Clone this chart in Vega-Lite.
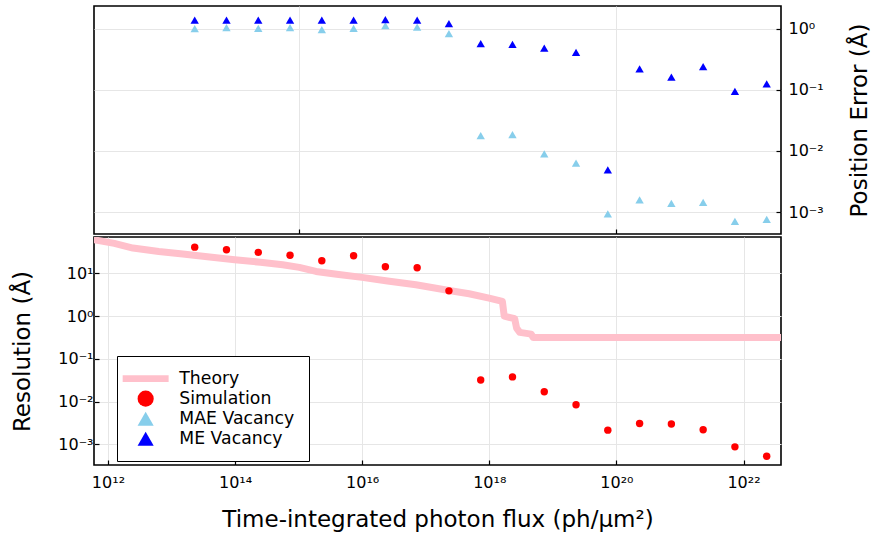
{
  "$schema": "https://vega.github.io/schema/vega-lite/v6.json",
  "background": "white",
  "padding": {"left": 10, "top": 5, "right": 0, "bottom": 5},
  "config": {
    "font": "DejaVu Sans",
    "view": {"stroke": "black", "strokeWidth": 1.6},
    "axis": {
      "labelFont": "DejaVu Sans", "labelFontSize": 16, "labelColor": "black",
      "titleFont": "DejaVu Sans", "titleFontSize": 23, "titleFontWeight": "normal", "titleColor": "black",
      "tickColor": "black", "tickWidth": 1.2, "tickSize": -5, "domain": false,
      "gridColor": "#e6e6e6", "gridWidth": 1
    }
  },
  "datasets": {
    "vac": [
      {"x": 2.317e13, "value": 1.00, "series": "MAE Vacancy"},
      {"x": 7.328e13, "value": 1.04, "series": "MAE Vacancy"},
      {"x": 2.317e14, "value": 1.01, "series": "MAE Vacancy"},
      {"x": 7.328e14, "value": 1.04, "series": "MAE Vacancy"},
      {"x": 2.317e15, "value": 0.96, "series": "MAE Vacancy"},
      {"x": 7.328e15, "value": 1.01, "series": "MAE Vacancy"},
      {"x": 2.317e16, "value": 1.12, "series": "MAE Vacancy"},
      {"x": 7.328e16, "value": 1.06, "series": "MAE Vacancy"},
      {"x": 2.317e17, "value": 0.83, "series": "MAE Vacancy"},
      {"x": 7.328e17, "value": 0.0178, "series": "MAE Vacancy"},
      {"x": 2.317e18, "value": 0.0185, "series": "MAE Vacancy"},
      {"x": 7.328e18, "value": 0.0089, "series": "MAE Vacancy"},
      {"x": 2.317e19, "value": 0.0063, "series": "MAE Vacancy"},
      {"x": 7.328e19, "value": 0.00093, "series": "MAE Vacancy"},
      {"x": 2.317e20, "value": 0.00158, "series": "MAE Vacancy"},
      {"x": 7.328e20, "value": 0.00138, "series": "MAE Vacancy"},
      {"x": 2.317e21, "value": 0.00144, "series": "MAE Vacancy"},
      {"x": 7.328e21, "value": 0.0007, "series": "MAE Vacancy"},
      {"x": 2.317e22, "value": 0.00076, "series": "MAE Vacancy"},
      {"x": 2.317e13, "value": 1.37, "series": "ME Vacancy"},
      {"x": 7.328e13, "value": 1.37, "series": "ME Vacancy"},
      {"x": 2.317e14, "value": 1.37, "series": "ME Vacancy"},
      {"x": 7.328e14, "value": 1.37, "series": "ME Vacancy"},
      {"x": 2.317e15, "value": 1.37, "series": "ME Vacancy"},
      {"x": 7.328e15, "value": 1.37, "series": "ME Vacancy"},
      {"x": 2.317e16, "value": 1.40, "series": "ME Vacancy"},
      {"x": 7.328e16, "value": 1.37, "series": "ME Vacancy"},
      {"x": 2.317e17, "value": 1.21, "series": "ME Vacancy"},
      {"x": 7.328e17, "value": 0.57, "series": "ME Vacancy"},
      {"x": 2.317e18, "value": 0.55, "series": "ME Vacancy"},
      {"x": 7.328e18, "value": 0.48, "series": "ME Vacancy"},
      {"x": 2.317e19, "value": 0.41, "series": "ME Vacancy"},
      {"x": 7.328e19, "value": 0.0049, "series": "ME Vacancy"},
      {"x": 2.317e20, "value": 0.22, "series": "ME Vacancy"},
      {"x": 7.328e20, "value": 0.161, "series": "ME Vacancy"},
      {"x": 2.317e21, "value": 0.238, "series": "ME Vacancy"},
      {"x": 7.328e21, "value": 0.094, "series": "ME Vacancy"},
      {"x": 2.317e22, "value": 0.125, "series": "ME Vacancy"}
    ],
    "sim": [
      {"x": 2.317e13, "value": 41, "series": "Simulation"},
      {"x": 7.328e13, "value": 35.6, "series": "Simulation"},
      {"x": 2.317e14, "value": 31, "series": "Simulation"},
      {"x": 7.328e14, "value": 26.5, "series": "Simulation"},
      {"x": 2.317e15, "value": 19.7, "series": "Simulation"},
      {"x": 7.328e15, "value": 25.8, "series": "Simulation"},
      {"x": 2.317e16, "value": 14.3, "series": "Simulation"},
      {"x": 7.328e16, "value": 13.5, "series": "Simulation"},
      {"x": 2.317e17, "value": 3.9, "series": "Simulation"},
      {"x": 7.328e17, "value": 0.032, "series": "Simulation"},
      {"x": 2.317e18, "value": 0.038, "series": "Simulation"},
      {"x": 7.328e18, "value": 0.017, "series": "Simulation"},
      {"x": 2.317e19, "value": 0.0085, "series": "Simulation"},
      {"x": 7.328e19, "value": 0.00216, "series": "Simulation"},
      {"x": 2.317e20, "value": 0.0031, "series": "Simulation"},
      {"x": 7.328e20, "value": 0.0030, "series": "Simulation"},
      {"x": 2.317e21, "value": 0.0022, "series": "Simulation"},
      {"x": 7.328e21, "value": 0.00088, "series": "Simulation"},
      {"x": 2.317e22, "value": 0.00053, "series": "Simulation"}
    ],
    "theory": [
      {"x": 5.01e11, "value": 66.1},
      {"x": 6.03e11, "value": 61.1},
      {"x": 1.259e12, "value": 50.1},
      {"x": 2.47e12, "value": 39.1},
      {"x": 6.31e12, "value": 32.4},
      {"x": 1.507e13, "value": 28.2},
      {"x": 3.98e13, "value": 24.0},
      {"x": 9.89e13, "value": 20.8},
      {"x": 2.51e14, "value": 18.2},
      {"x": 5.61e14, "value": 15.85},
      {"x": 1.023e15, "value": 13.8},
      {"x": 1.879e15, "value": 11.1},
      {"x": 3.98e15, "value": 9.55},
      {"x": 9.93e15, "value": 8.05},
      {"x": 2.51e16, "value": 6.61},
      {"x": 7.0e16, "value": 5.41},
      {"x": 2.33e17, "value": 3.98},
      {"x": 4.82e17, "value": 3.33},
      {"x": 9.93e17, "value": 2.64},
      {"x": 1.607e18, "value": 2.21},
      {"x": 1.718e18, "value": 1.0},
      {"x": 2.51e18, "value": 0.87},
      {"x": 2.69e18, "value": 0.525},
      {"x": 3.02e18, "value": 0.417},
      {"x": 4.57e18, "value": 0.38},
      {"x": 4.9e18, "value": 0.316},
      {"x": 5.01e22, "value": 0.316}
    ]
  },
  "spacing": 0,
  "resolve": {"scale": {"color": "independent", "shape": "independent"}},
  "vconcat": [
    {
      "width": 687,
      "height": 228,
      "data": {"name": "vac"},
      "mark": {"type": "point", "filled": true, "shape": "triangle-up", "size": 70, "opacity": 1},
      "encoding": {
        "x": {
          "field": "x", "type": "quantitative",
          "scale": {"type": "log", "domain": [6.03e11, 3.89e22], "nice": false},
          "axis": {"values": [1e15, 1e20], "labels": false, "title": null, "grid": true}
        },
        "y": {
          "field": "value", "type": "quantitative",
          "scale": {"type": "log", "domain": [4.37e-4, 2.34], "nice": false},
          "axis": {
            "orient": "right", "values": [0.001, 0.01, 0.1, 1],
            "labelExpr": "'10' + (datum.value < 0.005 ? '⁻³' : datum.value < 0.05 ? '⁻²' : datum.value < 0.5 ? '⁻¹' : '⁰')",
            "labelPadding": 12,
            "title": "Position Error (Å)", "titleAngle": 270, "titleBaseline": "top", "titlePadding": 25, "grid": true
          }
        },
        "color": {
          "field": "series", "type": "nominal",
          "scale": {"domain": ["MAE Vacancy", "ME Vacancy"], "range": ["#87CEEB", "#0000FF"]},
          "legend": null
        }
      }
    },
    {
      "width": 687,
      "height": 228,
      "layer": [
        {
          "data": {"name": "theory"},
          "mark": {"type": "line", "color": "#FFC0CB", "strokeWidth": 7, "strokeJoin": "round", "clip": true},
          "encoding": {
            "x": {"field": "x", "type": "quantitative"},
            "y": {"field": "value", "type": "quantitative"}
          }
        },
        {
          "data": {"name": "sim"},
          "mark": {"type": "point", "filled": true, "size": 55, "opacity": 1},
          "encoding": {
            "x": {"field": "x", "type": "quantitative"},
            "y": {"field": "value", "type": "quantitative"},
            "color": {
              "field": "series", "type": "nominal",
              "scale": {"domain": ["Theory", "Simulation", "MAE Vacancy", "ME Vacancy"], "range": ["#FFC0CB", "#FF0000", "#87CEEB", "#0000FF"]},
              "legend": {
                "title": null, "orient": "none", "legendX": 23, "legendY": 119,
                "strokeColor": "black", "fillColor": "white",
                "padding": 14, "symbolSize": 260, "symbolOffset": 6, "symbolStrokeWidth": 0,
                "labelFontSize": 17.3, "labelFont": "DejaVu Sans", "labelColor": "black", "labelOffset": 25,
                "rowPadding": 2
              }
            },
            "shape": {
              "field": "series", "type": "nominal",
              "scale": {"domain": ["Theory", "Simulation", "MAE Vacancy", "ME Vacancy"], "range": ["M-2.85,-0.41H2.85V0.41H-2.85Z", "circle", "triangle-up", "triangle-up"]},
              "legend": {
                "title": null, "orient": "none", "legendX": 23, "legendY": 119,
                "strokeColor": "black", "fillColor": "white",
                "padding": 14, "symbolSize": 260, "symbolOffset": 6, "symbolStrokeWidth": 0,
                "labelFontSize": 17.3, "labelFont": "DejaVu Sans", "labelColor": "black", "labelOffset": 25,
                "rowPadding": 2
              }
            }
          }
        }
      ],
      "encoding": {
        "x": {
          "field": "x", "type": "quantitative",
          "scale": {"type": "log", "domain": [6.03e11, 3.89e22], "nice": false},
          "axis": {
            "values": [1e12, 1e14, 1e16, 1e18, 1e20, 1e22],
            "labelExpr": "'10' + (datum.value < 1e13 ? '¹²' : datum.value < 1e15 ? '¹⁴' : datum.value < 1e17 ? '¹⁶' : datum.value < 1e19 ? '¹⁸' : datum.value < 1e21 ? '²⁰' : '²²')",
            "labelPadding": 14,
            "title": "Time-integrated photon flux (ph/μm²)", "titlePadding": 18, "grid": true
          }
        },
        "y": {
          "field": "value", "type": "quantitative",
          "scale": {"type": "log", "domain": [3.31e-4, 70.8], "nice": false},
          "axis": {
            "values": [0.001, 0.01, 0.1, 1, 10],
            "labelExpr": "'10' + (datum.value < 0.005 ? '⁻³' : datum.value < 0.05 ? '⁻²' : datum.value < 0.5 ? '⁻¹' : datum.value < 5 ? '⁰' : '¹')",
            "labelPadding": 6,
            "title": "Resolution (Å)", "titlePadding": 23, "grid": true
          }
        }
      }
    }
  ]
}
